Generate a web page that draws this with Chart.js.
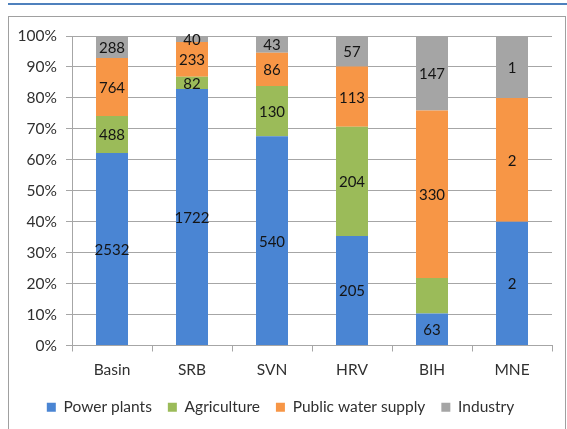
<!DOCTYPE html>
<html>
<head>
<meta charset="utf-8">
<script src="https://cdn.jsdelivr.net/npm/chart.js@4.4.1/dist/chart.umd.min.js"></script>
<style>
body { margin: 0; background: #fff; width: 567px; height: 429px; overflow: hidden; position: relative; }
#topline { position: absolute; left: 8px; right: 0; top: 3px; height: 2px; background: #4f81bd; }
#frame { position: absolute; left: 8px; top: 16px; width: 558px; height: 430px; border: 1px solid #a0a0a0; box-sizing: border-box; }
#chart { position: absolute; left: 9px; top: 17px; }
</style>
</head>
<body>
<div id="topline"></div>
<div id="frame"></div>
<canvas id="chart" width="556" height="412"></canvas>
<script>
var categories = ['Basin', 'SRB', 'SVN', 'HRV', 'BIH', 'MNE'];
var powerPlants = [2532, 1722, 540, 205, 63, 2];
var agriculture = [488, 82, 130, 204, 70, 0];
var publicWater = [764, 233, 86, 113, 330, 2];
var industry = [288, 40, 43, 57, 147, 1];
var yTicks = [0, 10, 20, 30, 40, 50, 60, 70, 80, 90, 100];

// the BIH agriculture slice carries no label in the original
var hideLabel = { 'Agriculture': ['BIH'] };

var series = [
    { label: 'Power plants', values: powerPlants, color: '#4a85d3' },
    { label: 'Agriculture', values: agriculture, color: '#9bbb59' },
    { label: 'Public water supply', values: publicWater, color: '#f79646' },
    { label: 'Industry', values: industry, color: '#a5a5a5' }
];

var totals = categories.map(function(c, i) {
    return series.reduce(function(s, d) { return s + d.values[i]; }, 0);
});

var datasets = series.map(function(s) {
    return {
        label: s.label,
        data: s.values.map(function(v, i) { return v / totals[i] * 100; }),
        raw: s.values,
        backgroundColor: s.color,
        borderWidth: 0,
        barPercentage: 0.4,
        categoryPercentage: 1
    };
});

var valueLabels = {
    id: 'valueLabels',
    afterDatasetsDraw: function(chart) {
        var ctx = chart.ctx;
        ctx.save();
        ctx.font = '15px Lato';
        ctx.fillStyle = '#141414';
        ctx.textAlign = 'center';
        ctx.textBaseline = 'middle';
        chart.data.datasets.forEach(function(ds, d) {
            var hidden = hideLabel[ds.label] || [];
            chart.getDatasetMeta(d).data.forEach(function(bar, i) {
                if (!ds.raw[i] || hidden.indexOf(categories[i]) >= 0) return;
                ctx.fillText(String(ds.raw[i]), bar.x, (bar.y + bar.base) / 2 + 1);
            });
        });
        ctx.restore();
    }
};

Chart.defaults.font.family = 'Lato';
Chart.defaults.color = '#404040';

new Chart(document.getElementById('chart').getContext('2d'), {
    type: 'bar',
    data: { labels: categories, datasets: datasets },
    plugins: [valueLabels],
    options: {
        responsive: false,
        animation: false,
        devicePixelRatio: 1,
        layout: { padding: { top: 19, right: 13, bottom: 4, left: 0 } },
        plugins: {
            tooltip: { enabled: false },
            legend: {
                position: 'bottom',
                labels: {
                    boxWidth: 9,
                    boxHeight: 9,
                    padding: 16,
                    font: { size: 15.5 },
                    color: '#303030'
                }
            }
        },
        scales: {
            x: {
                stacked: true,
                grid: { drawOnChartArea: false, color: '#a6a6a6', tickLength: 6, offset: true },
                border: { color: '#a6a6a6' },
                ticks: { font: { size: 15.5 }, padding: 9, color: '#303030' },
                afterFit: function(scale) { scale.height = 38; }
            },
            y: {
                stacked: true,
                min: 0,
                max: 100,
                afterBuildTicks: function(scale) {
                    scale.ticks = yTicks.map(function(v) { return { value: v }; });
                },
                grid: { color: '#a6a6a6', tickLength: 6 },
                border: { color: '#a6a6a6' },
                ticks: {
                    font: { size: 15.5 },
                    padding: 9,
                    color: '#303030',
                    callback: function(v) { return v + '%'; }
                },
                afterFit: function(scale) { scale.width = 63; }
            }
        }
    }
});
</script>
</body>
</html>
